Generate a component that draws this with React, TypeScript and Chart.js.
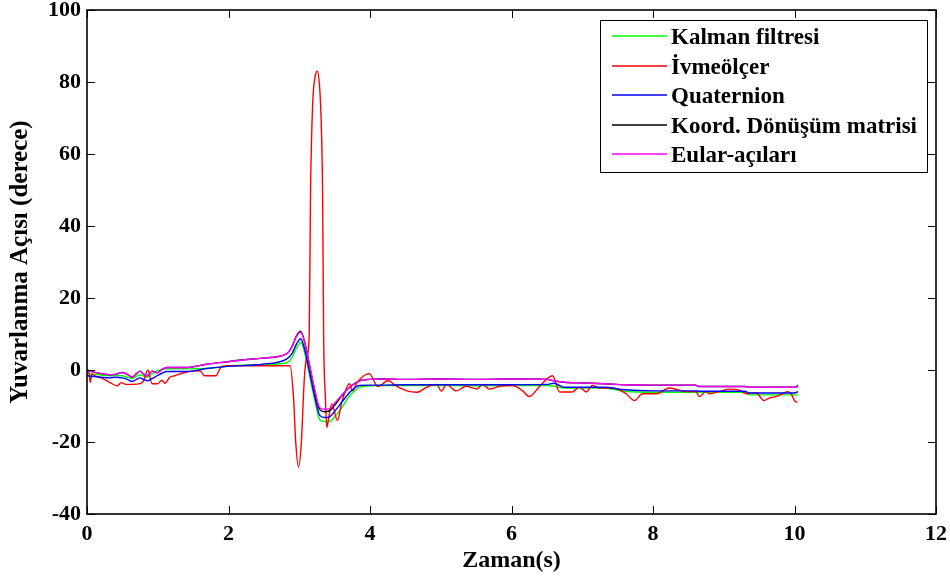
import React, { useEffect, useRef } from "react";
import { Chart, registerables } from "chart.js";

Chart.register(...registerables);

// ---- Data ----
const seriesNames = [
  "Kalman filtresi",
  "İvmeölçer",
  "Quaternion",
  "Koord. Dönüşüm matrisi",
  "Eular-açıları",
];
const seriesColors = ["#00ff00", "#ff0000", "#0000ff", "#000000", "#ff00ff"];

const xTitle = "Zaman(s)";
const yTitle = "Yuvarlanma Açısı (derece)";

// accelerometer (noisy) series has its own time base
const accelTime = [
  0, 0.03, 0.045, 0.07, 0.13, 0.2, 0.3, 0.43, 0.48, 0.55, 0.65, 0.75, 0.8, 0.86, 0.92, 1.0, 1.06, 1.1,
  1.17, 1.24, 1.38, 1.5, 1.6, 1.66, 1.82, 1.89, 1.98, 2.87, 2.92, 2.95, 2.99, 3.03, 3.07, 3.1, 3.14,
  3.16, 3.19, 3.22, 3.255, 3.29, 3.31, 3.33, 3.345, 3.37, 3.39, 3.41, 3.46, 3.54, 3.6, 3.71, 3.75,
  3.82, 3.99, 4.11, 4.26, 4.35, 4.52, 4.66, 4.8, 4.94, 5.01, 5.08, 5.22, 5.36, 5.51, 5.59, 5.69,
  5.83, 6.01, 6.16, 6.25, 6.4, 6.58, 6.68, 6.86, 6.96, 7.06, 7.14, 7.24, 7.43, 7.62, 7.74, 7.85,
  8.05, 8.23, 8.37, 8.47, 8.61, 8.65, 8.75, 8.8, 8.94, 9.08, 9.22, 9.32, 9.46, 9.57, 9.64, 9.74,
  9.81, 9.9, 9.95, 10.0, 10.04,
];
const accelValues = [
  0, -1, -3.4, -1.2, -1.8, -2.2, -3.2, -4.4, -3.5, -4, -4, -3.8, -3, 0, -3.8, -3.8, -2.8, -3.7,
  -2, -1.6, -0.7, -0.3, -0.2, -1.6, -1.6, 0.7, 1.2, 1.2, -8, -20, -27, -20, -3, 3, 9,
  50, 74, 81, 83, 78, 69, 49, 9, -8, -16, -14, -9.4, -14, -9, -3.8, -5.8,
  -3.4, -1, -4.6, -2.9, -4.2, -5.8, -6.2, -4.8, -4.0, -5.9, -4.0, -5.8, -4.5, -5.3, -4.0, -5.3,
  -4.5, -4.3, -5.8, -7.4, -4.5, -1.6, -6.1, -6.1, -4.8, -6.1, -4.3, -5.0, -5.0, -6.6, -8.5, -6.6,
  -6.6, -5.0, -5.6, -6.0, -6.0, -7.4, -6.0, -6.6, -6.0, -5.3, -5.6, -6.6, -6.4, -8.5, -7.8, -7.4,
  -6.8, -6.0, -6.5, -8.5, -9.0,
];

// common time base for the filtered estimates
const time = [
  0, 0.1, 0.2, 0.32, 0.4, 0.5, 0.57, 0.64, 0.7, 0.75, 0.8, 0.85, 0.92, 0.99, 1.06, 1.13, 1.41, 1.69,
  1.98, 2.06, 2.48, 2.82, 2.9, 2.96, 3.02, 3.08, 3.15, 3.22, 3.29, 3.36, 3.43, 3.5, 3.6, 3.7, 3.85,
  4.0, 4.15, 4.5, 5.0, 5.5, 6.0, 6.5, 6.6, 6.75, 7.0, 7.3, 7.6, 8.0, 8.6, 8.65, 9.3, 9.36, 10.0, 10.05,
];
const kalman = [
  -1.0, -1.2, -1.4, -1.6, -1.5, -1.6, -2.0, -2.3, -1.7, -1.4, -1.7, -2.0, -1.0, -0.2, 0.1, 0.3, 0.3, 0.4,
  1.0, 1.2, 1.5, 2.0, 3.5, 6.0, 7.7, 4.5, -2.0, -8.5, -13.8, -14.3, -14.3, -13.0, -10.5, -7.5, -4.8,
  -4.4, -4.3, -4.3, -4.3, -4.4, -4.3, -4.3, -4.5, -5.0, -5.0, -5.0, -5.9, -6.2, -6.2, -6.2, -6.2, -6.9, -6.9, -6.9,
];
const quaternion = [
  -1.6, -1.8, -2.0, -2.2, -2.0, -2.2, -2.6, -3.2, -2.6, -2.2, -2.6, -3.0, -2.4, -1.6, -0.9, -0.4, -0.4, 0.4,
  1.0, 1.1, 1.6, 3.0, 4.6, 7.2, 8.7, 5.5, -1.0, -7.5, -12.6, -13.2, -13.0, -11.5, -9.0, -6.5, -4.3,
  -4.2, -4.2, -4.1, -4.1, -4.1, -4.1, -4.0, -3.7, -4.8, -4.8, -4.8, -5.5, -5.8, -5.8, -5.9, -5.9, -6.4, -6.4, -6.0,
];
const koord = [
  0.0, -0.6, -1.0, -1.3, -1.2, -0.7, -1.2, -2.0, -1.0, -0.3, -1.2, -1.6, -0.3, -0.8, 0.2, 0.7, 0.7, 1.6,
  2.3, 2.5, 3.3, 4.5, 6.6, 9.5, 10.8, 7.5, 0.8, -6.0, -11.0, -11.6, -11.3, -9.8, -7.2, -5.0, -3.0,
  -2.6, -2.5, -2.6, -2.5, -2.6, -2.5, -2.6, -3.0, -3.4, -3.6, -3.8, -4.1, -4.2, -4.2, -4.6, -4.6, -4.8, -4.8, -4.3,
];
const eular = [
  -0.2, -0.6, -1.0, -1.3, -1.2, -0.7, -1.2, -2.0, -1.0, -0.3, -1.2, -1.6, -0.3, -0.8, 0.2, 0.7, 0.7, 1.6,
  2.3, 2.5, 3.3, 4.5, 6.5, 9.3, 10.5, 7.5, 1.0, -5.5, -10.5, -10.9, -10.7, -9.2, -7.0, -5.0, -3.0,
  -2.6, -2.5, -2.6, -2.5, -2.6, -2.5, -2.6, -3.0, -3.4, -3.6, -3.8, -4.1, -4.2, -4.2, -4.6, -4.6, -4.8, -4.8, -4.6,
];

const xMin = 0, xMax = 12, xStep = 2;
const yMin = -40, yMax = 100, yStep = 20;

const FONT = "'Liberation Serif', 'Times New Roman', serif";

const pts = (t: number[], v: number[]) => t.map((x, i) => ({ x, y: v[i] }));

const framePlugin = {
  id: "matlabFrame",
  afterDatasetsDraw(chart: any) {
    const { ctx, chartArea: a, scales } = chart;
    ctx.save();
    ctx.strokeStyle = "#000";
    ctx.lineWidth = 1;
    const tl = 8;
    scales.x.ticks.forEach((t: any) => {
      const px = Math.round(scales.x.getPixelForValue(t.value)) + 0.5;
      ctx.beginPath();
      ctx.moveTo(px, a.bottom);
      ctx.lineTo(px, a.bottom - tl);
      ctx.moveTo(px, a.top);
      ctx.lineTo(px, a.top + tl);
      ctx.stroke();
    });
    scales.y.ticks.forEach((t: any) => {
      const py = Math.round(scales.y.getPixelForValue(t.value)) + 0.5;
      ctx.beginPath();
      ctx.moveTo(a.left, py);
      ctx.lineTo(a.left + tl, py);
      ctx.moveTo(a.right, py);
      ctx.lineTo(a.right - tl, py);
      ctx.stroke();
    });
    ctx.lineWidth = 1.6;
    ctx.strokeRect(a.left, a.top, a.right - a.left, a.bottom - a.top);
    ctx.restore();
  },
};

const legendPlugin = {
  id: "boxLegend",
  afterDraw(chart: any) {
    const { ctx } = chart;
    const x0 = 600, y0 = 20, w = 327, h = 152;
    ctx.save();
    ctx.fillStyle = "#fff";
    ctx.fillRect(x0, y0, w, h);
    ctx.strokeStyle = "#000";
    ctx.lineWidth = 1;
    ctx.strokeRect(x0 + 0.5, y0 + 0.5, w, h);
    ctx.font = `bold 23px ${FONT}`;
    ctx.textBaseline = "middle";
    ctx.textAlign = "left";
    seriesNames.forEach((name, i) => {
      const y = Math.round(36 + i * 29.5);
      ctx.strokeStyle = seriesColors[i];
      ctx.lineWidth = 1.5;
      ctx.beginPath();
      ctx.moveTo(612, y);
      ctx.lineTo(667, y);
      ctx.stroke();
      ctx.fillStyle = "#000";
      ctx.fillText(name, 671, y + 2);
    });
    ctx.restore();
  },
};

export default function App() {
  const ref = useRef<HTMLCanvasElement>(null);
  useEffect(() => {
    if (!ref.current) return;
    const values = [kalman, accelValues, quaternion, koord, eular];
    const times = [time, accelTime, time, time, time];
    const orders = [5, 4, 3, 2, 1];
    const chart = new Chart(ref.current, {
      type: "line",
      data: {
        datasets: seriesNames.map((name, i) => ({
          label: name,
          data: pts(times[i], values[i]),
          borderColor: seriesColors[i],
          backgroundColor: seriesColors[i],
          borderWidth: 1.4,
          pointRadius: 0,
          cubicInterpolationMode: "monotone",
          fill: false,
          order: orders[i],
        })),
      },
      options: {
        animation: false,
        responsive: false,
        maintainAspectRatio: false,
        layout: { padding: { top: 10, right: 14, left: 0, bottom: 0 } },
        plugins: { legend: { display: false }, tooltip: { enabled: false } },
        scales: {
          x: {
            type: "linear",
            min: xMin,
            max: xMax,
            grid: { display: false, drawTicks: false },
            border: { display: false },
            ticks: {
              stepSize: xStep,
              color: "#000",
              padding: 7,
              maxRotation: 0,
              font: { family: FONT, size: 22, weight: "bold" },
            },
            title: {
              display: true,
              text: xTitle,
              color: "#000",
              font: { family: FONT, size: 24, weight: "bold" },
              padding: { top: 0, bottom: 6 },
            },
            afterFit: (s: any) => {
              s.height = 67;
              s.paddingLeft = 0;
              s.paddingRight = 0;
            },
          },
          y: {
            type: "linear",
            min: yMin,
            max: yMax,
            grid: { display: false, drawTicks: false },
            border: { display: false },
            ticks: {
              stepSize: yStep,
              color: "#000",
              padding: 6,
              font: { family: FONT, size: 22, weight: "bold" },
            },
            title: {
              display: true,
              text: yTitle,
              color: "#000",
              font: { family: FONT, size: 25, weight: "bold" },
              padding: { top: 6, bottom: 0 },
            },
            afterFit: (s: any) => {
              s.width = 87;
              s.paddingTop = 0;
              s.paddingBottom = 0;
            },
          },
        },
      } as any,
      plugins: [framePlugin, legendPlugin],
    });
    return () => chart.destroy();
  }, []);
  return (
    <div style={{ position: "absolute", left: 0, top: 0, width: 950, height: 581, background: "#fff" }}>
      <canvas ref={ref} width={950} height={581} style={{ width: 950, height: 581, display: "block" }} />
    </div>
  );
}
